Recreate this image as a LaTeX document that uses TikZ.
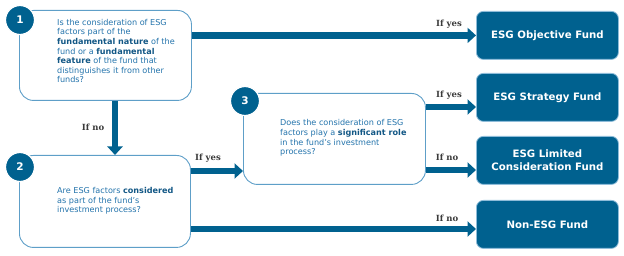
\documentclass[tikz,border=0pt]{standalone}
\usepackage{fontspec}
\setmainfont{DejaVu Sans}
\newfontfamily\lblfont{DejaVu Serif}
\usetikzlibrary{arrows.meta,positioning,calc}
\definecolor{dkblue}{HTML}{00618F}
\definecolor{qtext}{HTML}{2474AC}
\definecolor{qbold}{HTML}{135886}
\definecolor{qline}{HTML}{5E9FC8}
\definecolor{lbl}{HTML}{3A3A3A}
\newcommand{\qb}[1]{\textbf{\color{qbold}#1}}
\tikzset{
  qbox/.style={draw=qline, line width=0.9pt, rounded corners=14pt, fill=white},
  numcirc/.style={circle, fill=dkblue, draw=white, line width=1.2pt, minimum size=29pt, inner sep=0pt, text=white, font=\bfseries\fontsize{10.5}{10.5}\selectfont},
  qtextstyle/.style={anchor=west, align=left, text=qtext, font=\fontsize{8.1}{9.6}\selectfont, inner sep=0pt},
  fundbox/.style={draw=qline!70, line width=0.8pt, fill=dkblue, rounded corners=7pt, minimum width=142pt, minimum height=48pt, text=white, align=center, font=\bfseries\fontsize{10.2}{12.5}\selectfont, inner sep=0pt},
  flow/.style={draw=dkblue, line width=6.5pt, -{Triangle[length=8.5pt,width=15pt]}},
  flowlbl/.style={text=lbl, font=\lblfont\bfseries\fontsize{8.5}{9}\selectfont, inner sep=0pt}
}
\begin{document}
\begin{tikzpicture}[x=1pt,y=-1pt]
\useasboundingbox (0,0) rectangle (624,256);
% question boxes
\node[qbox, minimum width=172pt, minimum height=90pt, anchor=north west] (box1) at (19,10) {};
\node[qbox, minimum width=171pt, minimum height=92pt, anchor=north west] (box2) at (19,155) {};
\node[qbox, minimum width=182pt, minimum height=91pt, anchor=north west] (box3) at (243,93) {};
% fund boxes
\node[fundbox, anchor=north west] (obj) at (476,11) {ESG Objective Fund};
\node[fundbox, anchor=north west] (strat) at (476,73) {ESG Strategy Fund};
\node[fundbox, anchor=north west] (lim) at (476,136) {ESG Limited\\Consideration Fund};
\node[fundbox, anchor=north west] (non) at (476,200) {Non-ESG Fund};
% question texts
\node[qtextstyle, anchor=north west] (t1) at (57,19) {Is the consideration of ESG\\factors part of the\\\qb{fundamental nature} of the\\fund or a \qb{fundamental}\\\qb{feature} of the fund that\\distinguishes it from other\\funds?};
\node[qtextstyle] (t2) at (57,201) {Are ESG factors \qb{considered}\\as part of the fund's\\investment process?};
\node[qtextstyle] (t3) at (280,138) {Does the consideration of ESG\\factors play a \qb{significant role}\\in the fund's investment\\process?};
% number circles
\node[numcirc] (c1) at (20,20) {1};
\node[numcirc] (c2) at (20,167) {2};
\node[numcirc] (c3) at (245,101) {3};
% connectors
\coordinate (d1) at (115,0);
\draw[flow] (box1.south -| d1) -- (box2.north -| d1);
\draw[flow] (box1.east |- obj.west) -- (obj.west);
\coordinate (y2a) at (0,171);
\coordinate (y2b) at (0,229);
\coordinate (y3a) at (0,107);
\coordinate (y3b) at (0,170);
\draw[flow] (box2.east |- y2a) -- (box3.west |- y2a);
\draw[flow] (box2.east |- y2b) -- (non.west |- y2b);
\draw[flow] (box3.east |- y3a) -- (strat.west |- y3a);
\draw[flow] (box3.east |- y3b) -- (lim.west |- y3b);
% labels
\node[flowlbl] (l1) at (93,127) {If no};
\node[flowlbl] (l2) at (449,24) {If yes};
\node[flowlbl] (l3) at (208,158) {If yes};
\node[flowlbl] (l4) at (449,95) {If yes};
\node[flowlbl] (l5) at (447,157) {If no};
\node[flowlbl] (l6) at (447,218) {If no};
\end{tikzpicture}
\end{document}
